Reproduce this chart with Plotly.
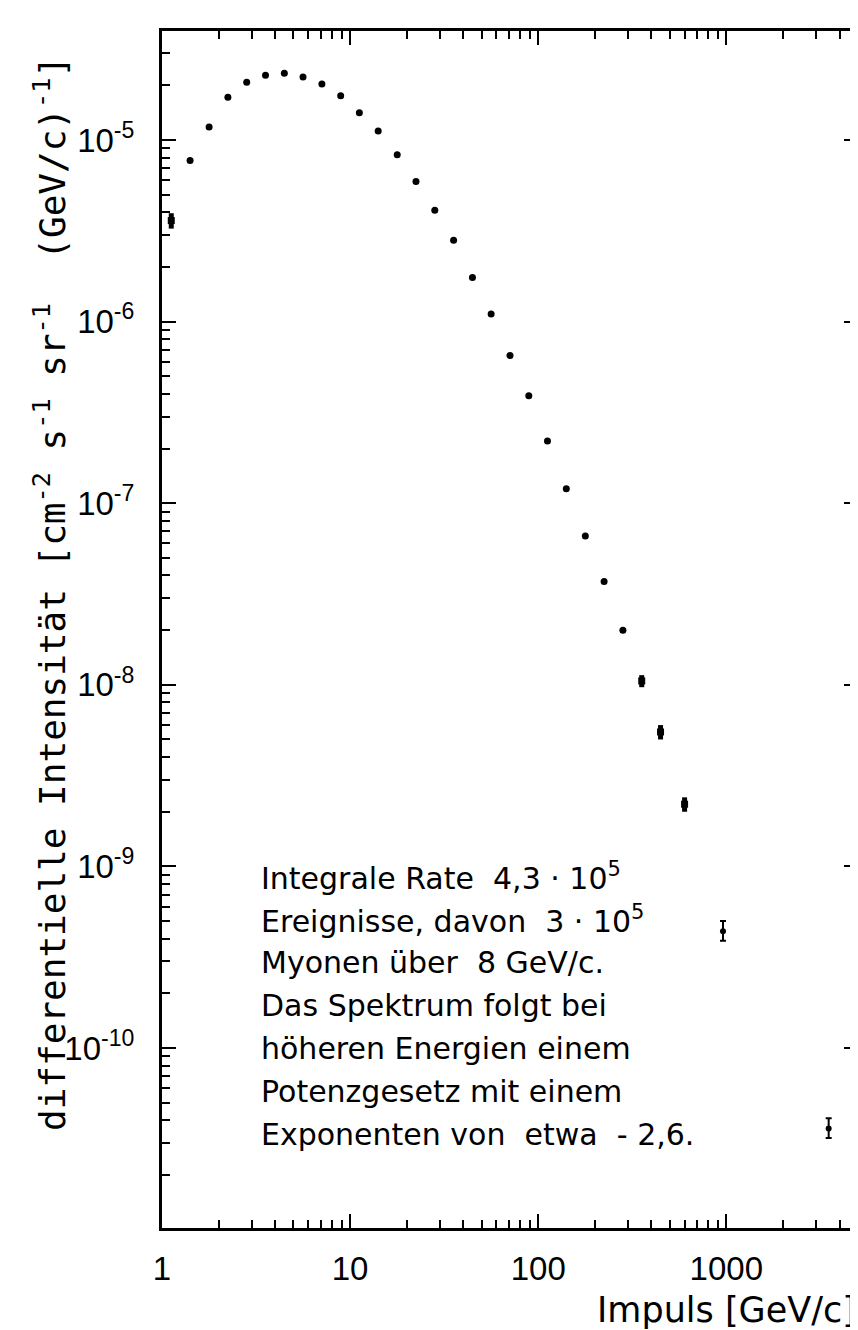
import plotly.graph_objects as go

# --- data ---
momentum_dot = [1.41, 1.78, 2.24, 2.82, 3.55, 4.47, 5.62, 7.08, 8.91, 11.2, 14.1, 17.8,
                22.4, 28.2, 35.5, 44.7, 56.2, 70.8, 89.1, 112, 141, 178, 224, 282]
flux_dot = [7.7e-6, 1.18e-5, 1.72e-5, 2.08e-5, 2.27e-5, 2.33e-5, 2.22e-5, 2.03e-5,
            1.75e-5, 1.41e-5, 1.12e-5, 8.3e-6, 5.9e-6, 4.1e-6, 2.8e-6, 1.75e-6,
            1.1e-6, 6.5e-7, 3.9e-7, 2.2e-7, 1.2e-7, 6.6e-8, 3.7e-8, 2.0e-8]

momentum_sq = [1.12, 355, 447, 600]
flux_sq = [3.6e-6, 1.05e-8, 5.5e-9, 2.2e-9]
err_sq_up = [0.35e-6, 0.08e-8, 0.5e-9, 0.2e-9]
err_sq_down = [0.35e-6, 0.08e-8, 0.5e-9, 0.2e-9]

momentum_bar = [960, 3500]
flux_bar = [4.4e-10, 3.6e-11]
err_bar_up = [0.6e-10, 0.5e-11]
err_bar_down = [0.5e-10, 0.4e-11]

x_tickvals = [1, 10, 100, 1000]
x_ticktext = ["1", "10", "100", "1000"]
y_tickvals = [1e-10, 1e-9, 1e-8, 1e-7, 1e-6, 1e-5]
y_ticktext = ["10<sup>-10</sup>", "10<sup>-9</sup>", "10<sup>-8</sup>", "10<sup>-7</sup>",
              "10<sup>-6</sup>", "10<sup>-5</sup>"]
x_minor = [m * 10 ** e for e in range(0, 4) for m in range(2, 10)]
y_minor = [m * 10.0 ** e for e in range(-11, -4) for m in range(2, 10)]

note_lines = [
    "Integrale\u00a0Rate\u00a0\u00a04,3\u00a0·\u00a010<sup>5</sup>",
    "Ereignisse,\u00a0davon\u00a0\u00a03\u00a0·\u00a010<sup>5</sup>",
    "Myonen\u00a0über\u00a0\u00a08\u00a0GeV/c.",
    "Das\u00a0Spektrum\u00a0folgt\u00a0bei",
    "höheren\u00a0Energien\u00a0einem",
    "Potenzgesetz\u00a0mit\u00a0einem",
    "Exponenten\u00a0von\u00a0\u00a0etwa\u00a0\u00a0-\u00a02,6.",
]

TICKFONT = "Liberation Sans, Arial, sans-serif"
TXT = "DejaVu Sans, Verdana, sans-serif"
TITLE = "DejaVu Sans Mono, monospace"

L, R, T, B = 154, 5, 23, 110
PW, PH = 858 - L - R, 1330 - T - B

fig = go.Figure()
fig.add_trace(go.Scatter(x=momentum_dot, y=flux_dot, mode="markers",
                         marker=dict(color="black", size=7, symbol="circle"),
                         showlegend=False))
fig.add_trace(go.Scatter(x=momentum_sq, y=flux_sq, mode="markers",
                         marker=dict(color="black", size=7, symbol="square"),
                         error_y=dict(type="data", array=err_sq_up, arrayminus=err_sq_down,
                                      color="black", thickness=5, width=0),
                         showlegend=False))
fig.add_trace(go.Scatter(x=momentum_bar, y=flux_bar, mode="markers",
                         marker=dict(color="black", size=6, symbol="circle"),
                         error_y=dict(type="data", array=err_bar_up, arrayminus=err_bar_down,
                                      color="black", thickness=2, width=3),
                         showlegend=False))

axis_common = dict(type="log", showgrid=False, zeroline=False, showline=True,
                   linecolor="black", linewidth=3, mirror="allticks",
                   ticks="inside", ticklen=14, tickwidth=2, tickcolor="black")

fig.update_xaxes(**axis_common, range=[0, 3.70], tickmode="array",
                 tickvals=x_tickvals, ticktext=x_ticktext,
                 minor=dict(ticks="inside", ticklen=8, tickwidth=2, tickcolor="black",
                            showgrid=False, tickmode="array", tickvals=x_minor),
                 tickfont=dict(family=TICKFONT, size=33, color="black"), ticklabelstandoff=9)
fig.update_yaxes(**axis_common, range=[-10.991, -4.400], tickmode="array",
                 tickvals=y_tickvals, ticktext=y_ticktext,
                 minor=dict(ticks="inside", ticklen=8, tickwidth=2, tickcolor="black",
                            showgrid=False, tickmode="array", tickvals=y_minor),
                 tickfont=dict(family=TICKFONT, size=33, color="black"), ticklabelstandoff=18)

annotations = []
for i, line in enumerate(note_lines):
    annotations.append(dict(text=line, xref="paper", yref="paper", x=(251 - L) / PW,
                            y=1 - (868 + 43 * i - T) / PH, xanchor="left", yanchor="middle",
                            showarrow=False, font=dict(family=TXT, size=30, color="black")))

annotations.append(dict(
    text="differentielle\u00a0Intensität\u00a0[cm<sup>-2</sup>\u00a0s<sup>-1</sup>\u00a0sr<sup>-1</sup>\u00a0\u00a0(GeV/c)<sup>-1</sup>]",
    xref="paper", yref="paper", x=0, y=1 - (586 - T) / PH, xshift=42 - L,
    xanchor="center", yanchor="middle", textangle=-90, showarrow=False,
    font=dict(family=TITLE, size=36, color="black")))
annotations.append(dict(
    text="Impuls\u00a0[GeV/c]",
    xref="paper", yref="paper", x=1, y=0, yshift=-(1302 - (1330 - B)), xanchor="right",
    yanchor="middle", showarrow=False, font=dict(family=TXT, size=35, color="black")))

fig.update_layout(width=858, height=1330, margin=dict(l=L, r=R, t=T, b=B),
                  paper_bgcolor="white", plot_bgcolor="white", annotations=annotations)

fig.write_html("out.html")
